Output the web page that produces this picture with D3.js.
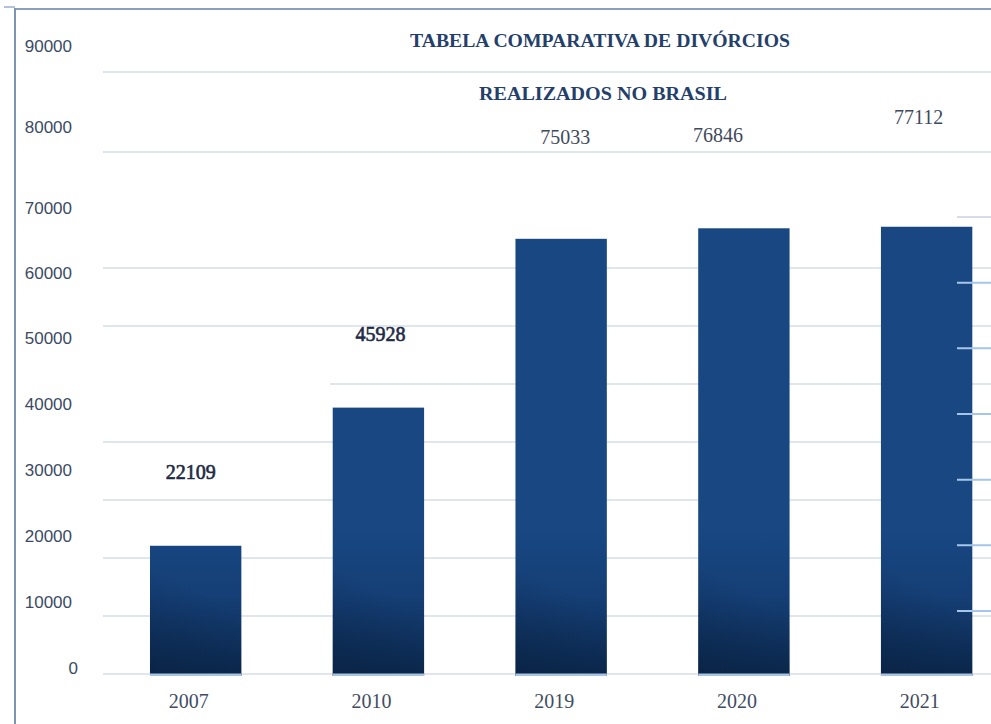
<!DOCTYPE html>
<html>
<head>
<meta charset="utf-8">
<script src="https://cdn.jsdelivr.net/npm/d3@7"></script>
<style>
  html, body { margin: 0; padding: 0; background: #fff; }
  svg { display: block; }
</style>
</head>
<body>
<svg id="chart" width="991" height="724"></svg>
<script>
// ---- data ----
const categories = ["2007", "2010", "2019", "2020", "2021"];
const values = [22109, 45928, 75033, 76846, 77112];
const yTickLabels = [0, 10000, 20000, 30000, 40000, 50000, 60000, 70000, 80000, 90000];
const gridValues = [0, 10000, 20000, 30000, 40000, 50000, 60000, 70000, 90000];
const titleLines = ["TABELA COMPARATIVA DE DIVÓRCIOS", "REALIZADOS NO BRASIL"];

// ---- layout ----
const W = 991, H = 724;
const svg = d3.select("#chart");

const x = d3.scaleBand().domain(categories).range([104.3, 1018]).paddingInner(0.5).paddingOuter(0.25);
const y = d3.scaleLinear().domain([0, 100000]).range([674, 94]);
// the printed axis labels sit on their own uneven spacing
const yLab = d3.scaleLinear().domain([0, 60000, 70000, 80000, 90000]).range([668, 273, 208, 127, 46]);

const defs = svg.append("defs");
// vertical darkening toward the baseline
const grad = defs.append("linearGradient").attr("id", "barGrad")
  .attr("gradientUnits", "userSpaceOnUse")
  .attr("x1", 0).attr("y1", y(25000)).attr("x2", 0).attr("y2", y(0));
grad.append("stop").attr("offset", 0).attr("stop-color", "#184782");
grad.append("stop").attr("offset", 0.45).attr("stop-color", "#153f76");
grad.append("stop").attr("offset", 1).attr("stop-color", "#0c2a50");
// slight darker bottom-left corner, fading out before the top of the overlay
const shade = defs.append("linearGradient").attr("id", "barShade")
  .attr("x1", 0).attr("y1", 1).attr("x2", 0.4).attr("y2", 0);
shade.append("stop").attr("offset", 0).attr("stop-color", "#061a36").attr("stop-opacity", 0.4);
shade.append("stop").attr("offset", 0.75).attr("stop-color", "#061a36").attr("stop-opacity", 0);

// frame
svg.append("line").attr("x1", 15).attr("x2", W).attr("y1", 9).attr("y2", 9)
  .attr("stroke", "#8aa0bb").attr("stroke-width", 2);
svg.append("line").attr("x1", 4).attr("x2", 15).attr("y1", 7).attr("y2", 7)
  .attr("stroke", "#9aaec6").attr("stroke-width", 1.5);
svg.append("line").attr("x1", 15).attr("x2", 15).attr("y1", 8).attr("y2", H)
  .attr("stroke", "#7d95b2").attr("stroke-width", 2);

// gridlines
svg.append("g").selectAll("line").data(gridValues).join("line")
  .attr("x1", d => d === 50000 ? 330 : 103).attr("x2", W)
  .attr("y1", d => y(d)).attr("y2", d => y(d))
  .attr("stroke", "#d7dde6").attr("stroke-width", 1.5);
// title rule
svg.append("line").attr("x1", 103).attr("x2", W)
  .attr("y1", y(90000) - 80).attr("y2", y(90000) - 80)
  .attr("stroke", "#d7dde6").attr("stroke-width", 1.5);

// bars
const barG = svg.append("g");
barG.selectAll("rect.bar").data(values).join("rect").attr("class", "bar")
  .attr("x", (d, i) => x(categories[i]))
  .attr("y", d => y(d))
  .attr("width", x.bandwidth())
  .attr("height", d => y(0) + 2 - y(d))
  .attr("fill", "url(#barGrad)");
barG.selectAll("rect.shade").data(values).join("rect").attr("class", "shade")
  .attr("x", (d, i) => x(categories[i]))
  .attr("y", d => Math.max(y(d), y(22000)))
  .attr("width", x.bandwidth())
  .attr("height", d => y(0) + 2 - Math.max(y(d), y(22000)))
  .attr("fill", "url(#barShade)");
// baseline strip under bars
svg.append("g").selectAll("rect").data(values).join("rect")
  .attr("x", (d, i) => x(categories[i]))
  .attr("y", y(0) - 0.5)
  .attr("width", x.bandwidth())
  .attr("height", 2.5)
  .attr("fill", "#a9c3e3");

// right-edge short ticks
const rt = d3.scaleLinear().domain([0, 6]).range([611, 217]);
svg.append("g").selectAll("line").data(d3.range(7)).join("line")
  .attr("x1", 957).attr("x2", W)
  .attr("y1", d => rt(d)).attr("y2", d => rt(d))
  .attr("stroke", d => d === 6 ? "#d7dde6" : "#a5c6e8").attr("stroke-width", 2);

// y axis labels
svg.append("g").selectAll("text").data(yTickLabels).join("text")
  .attr("x", d => d === 0 ? 78 : 72)
  .attr("y", d => yLab(d))
  .attr("text-anchor", "end")
  .attr("dominant-baseline", "central")
  .attr("font-family", "'Liberation Sans', Arial, sans-serif")
  .attr("font-size", 17)
  .attr("fill", "#3b4a63")
  .text(d => d);

// x labels
svg.append("g").selectAll("text").data(categories).join("text")
  .attr("x", d => x(d) + x.bandwidth() / 2 - 7)
  .attr("y", 701)
  .attr("text-anchor", "middle")
  .attr("dominant-baseline", "central")
  .attr("font-family", "'Liberation Serif', 'Times New Roman', serif")
  .attr("font-size", 20)
  .attr("fill", "#3f4d63")
  .text(d => d);

// value labels
const labDy = [-74, -74, -102, -93, -110];
const labDx = [-5, 2, 4, -26, -8];
const labCol = ["#1d2a45", "#1d2a45", "#3f4a5c", "#3f4a5c", "#3f4a5c"];
svg.append("g").selectAll("text").data(values).join("text")
  .attr("x", (d, i) => x(categories[i]) + x.bandwidth() / 2 + labDx[i])
  .attr("y", (d, i) => y(d) + labDy[i])
  .attr("text-anchor", "middle")
  .attr("dominant-baseline", "central")
  .attr("font-family", "'Liberation Serif', 'Times New Roman', serif")
  .attr("font-size", 20)
  .attr("fill", (d, i) => labCol[i])
  .attr("stroke", (d, i) => i < 2 ? labCol[i] : "none")
  .attr("stroke-width", 0.6)
  .text(d => d);

// title
const tl = [{t: titleLines[0], cx: 600, cy: 41, w: 380}, {t: titleLines[1], cx: 603, cy: 94, w: 248}];
svg.append("g").selectAll("text").data(tl).join("text")
  .attr("x", d => d.cx)
  .attr("y", d => d.cy)
  .attr("text-anchor", "middle")
  .attr("dominant-baseline", "central")
  .attr("font-family", "'Liberation Serif', 'Times New Roman', serif")
  .attr("font-weight", "bold")
  .attr("font-size", 18)
  .attr("textLength", d => d.w)
  .attr("lengthAdjust", "spacingAndGlyphs")
  .attr("fill", "#253f6b")
  .text(d => d.t);
</script>
</body>
</html>
